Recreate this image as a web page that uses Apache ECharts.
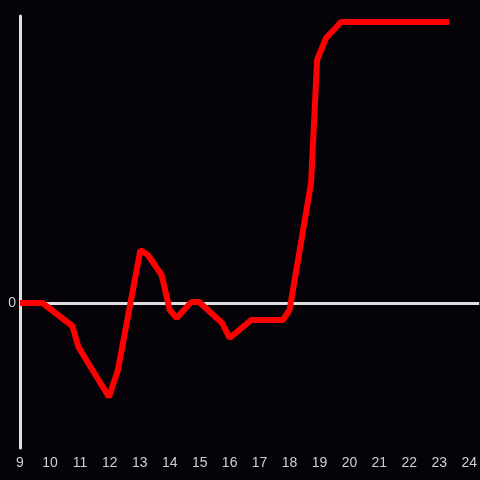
<!DOCTYPE html>
<html>
<head>
<meta charset="utf-8">
<script src="https://cdn.jsdelivr.net/npm/echarts@6/dist/echarts.min.js"></script>
<style>
  html, body { margin: 0; padding: 0; background: #050308; }
  #chart { width: 480px; height: 480px; }
</style>
</head>
<body>
<div id="chart"></div>
<script>
// hours of day (x) and value (y)
const hours = [9, 9.75, 10.75, 10.95, 11.97, 12.27, 13.02, 13.27, 13.73, 14.0, 14.23, 14.72, 14.98, 15.75, 16.0, 16.72, 17.78, 18.0, 18.72, 18.92, 19.22, 19.72, 23.33];
const values = [0, 0, -23, -44, -94, -67, 53, 48, 28, -7, -15, 1, 1, -20, -35, -17, -17, -7, 120, 243, 265, 281, 281];
const yMin = -145;
const yMax = 287;

const myChart = echarts.init(document.getElementById("chart"));
const option = {
  backgroundColor: "#050308",
  animation: false,
  grid: { left: 20, right: 0, top: 16, bottom: 32 },
  xAxis: {
    type: "value",
    min: 9,
    max: 24 + 1 / 3,
    interval: 1,
    axisLine: { show: false },
    axisTick: { show: false },
    splitLine: { show: false },
    axisLabel: {
      color: "#cfcfcf",
      fontSize: 14,
      margin: 8,
      showMaxLabel: false,
    },
  },
  yAxis: {
    type: "value",
    min: yMin,
    max: yMax,
    axisLine: { show: true, lineStyle: { color: "#e0e0e0", width: 3 } },
    axisTick: { show: false },
    splitLine: { show: false },
    axisLabel: {
      color: "#cfcfcf",
      fontSize: 14,
      margin: 4,
      showMinLabel: false,
      showMaxLabel: false,
      formatter: (v) => (v === 0 ? "0" : ""),
    },
  },
  series: [
    {
      type: "line",
      data: hours.map((h, i) => [h, values[i]]),
      showSymbol: false,
      lineStyle: { color: "#ff0000", width: 6, join: "bevel" },
      z: 3,
      markLine: {
        silent: true,
        symbol: "none",
        label: { show: false },
        lineStyle: { color: "#e0e0e0", width: 3, type: "solid" },
        data: [{ yAxis: 0 }],
        z: 2,
      },
    },
  ],
};
myChart.setOption(option);
</script>
</body>
</html>
